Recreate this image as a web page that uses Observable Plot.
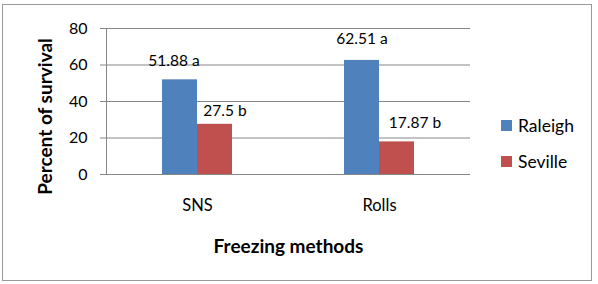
<!DOCTYPE html>
<html>
<head>
<meta charset="utf-8">
<script src="https://cdn.jsdelivr.net/npm/d3@7"></script>
<script src="https://cdn.jsdelivr.net/npm/@observablehq/plot@0.6"></script>
<style>
  html, body { margin: 0; padding: 0; background: #fff; }
  #chart { position: relative; width: 598px; height: 284px; font-family: Lato, "Open Sans", sans-serif; }
  #border { position: absolute; left: 2px; top: 4px; width: 590px; height: 277px; border: 1px solid #9a9a9a; box-sizing: border-box; }
  #plot { position: absolute; left: 0; top: 0; }
  #legend { position: absolute; left: 501px; top: 116px; font-size: 17.5px; color: #000; }
  #legend .item { display: flex; align-items: center; height: 18px; margin-bottom: 18px; }
  #legend .sw { width: 11px; height: 11px; margin-right: 6px; }
</style>
</head>
<body>
<div id="chart">
  <div id="border"></div>
  <div id="plot"></div>
  <div id="legend"></div>
</div>
<script>
// Survival after freezing, by method and cultivar
const methods = ["SNS", "Rolls"];
const cultivars = ["Raleigh", "Seville"];
const raleigh = [51.88, 62.51];
const seville = [27.5, 17.87];
const letters = { Raleigh: ["a", "a"], Seville: ["b", "b"] };
const yTicks = [0, 20, 40, 60, 80];
const colors = ["#4F81BD", "#C0504D"];
const yTitle = "Percent of survival";
const xTitle = "Freezing methods";

const rows = [];
methods.forEach((m, i) => {
  rows.push({ method: m, cultivar: "Raleigh", value: raleigh[i], letter: letters.Raleigh[i] });
  rows.push({ method: m, cultivar: "Seville", value: seville[i], letter: letters.Seville[i] });
});

// hand-placed label nudges (dx, dy) for each bar, in row order
const nudges = [[-6, -19], [10, -13], [0, -21], [18, -19]];

const grid = "#878787";
const font = "Lato, 'Open Sans', sans-serif";
const labelMarks = rows.map((d, i) =>
  Plot.text([d], {
    fx: "method", x: "cultivar", y: "value",
    text: r => `${r.value} ${r.letter}`,
    dx: nudges[i][0], dy: nudges[i][1],
    fontSize: 15.5, fill: "#000"
  })
);

const chart = Plot.plot({
  width: 598,
  height: 284,
  marginLeft: 105,
  marginRight: 128,
  marginTop: 28,
  marginBottom: 110,
  style: { fontFamily: font, background: "transparent", overflow: "visible" },
  fx: { domain: methods, padding: 0, label: null },
  x: { domain: cultivars, paddingInner: 0, paddingOuter: 1.535, axis: null },
  y: { domain: [0, 80], ticks: yTicks, label: null },
  color: { domain: cultivars, range: colors },
  marks: [
    Plot.ruleY(yTicks, { stroke: grid, strokeWidth: 1 }),
    Plot.barY(rows, { fx: "method", x: "cultivar", y: "value", fill: "cultivar" }),
    ...labelMarks,
    Plot.axisY({ ticks: yTicks, tickSize: 6, tickPadding: 13, stroke: grid, fontSize: 16, color: "#000", label: null }),
    Plot.axisFx({ anchor: "bottom", tickSize: 0, tickPadding: 25, fontSize: 16.5, label: null }),
    Plot.frame({ anchor: "left", stroke: grid, facet: "super" }),
    Plot.text([yTitle], {
      facet: "super", frameAnchor: "left", rotate: -90, dx: -61, dy: 15,
      fontSize: 19, fontWeight: "bold", fill: "#000", textAnchor: "middle", lineAnchor: "middle"
    }),
    Plot.text([xTitle], {
      facet: "super", frameAnchor: "bottom", dy: 72,
      fontSize: 19, fontWeight: "bold", fill: "#000", textAnchor: "middle", lineAnchor: "middle"
    })
  ]
});
document.getElementById("plot").appendChild(chart);

// legend swatches
const legend = document.getElementById("legend");
cultivars.forEach((c, i) => {
  const item = document.createElement("div");
  item.className = "item";
  const sw = document.createElement("div");
  sw.className = "sw";
  sw.style.background = colors[i];
  const t = document.createElement("span");
  t.textContent = c;
  item.append(sw, t);
  legend.appendChild(item);
});
</script>
</body>
</html>
